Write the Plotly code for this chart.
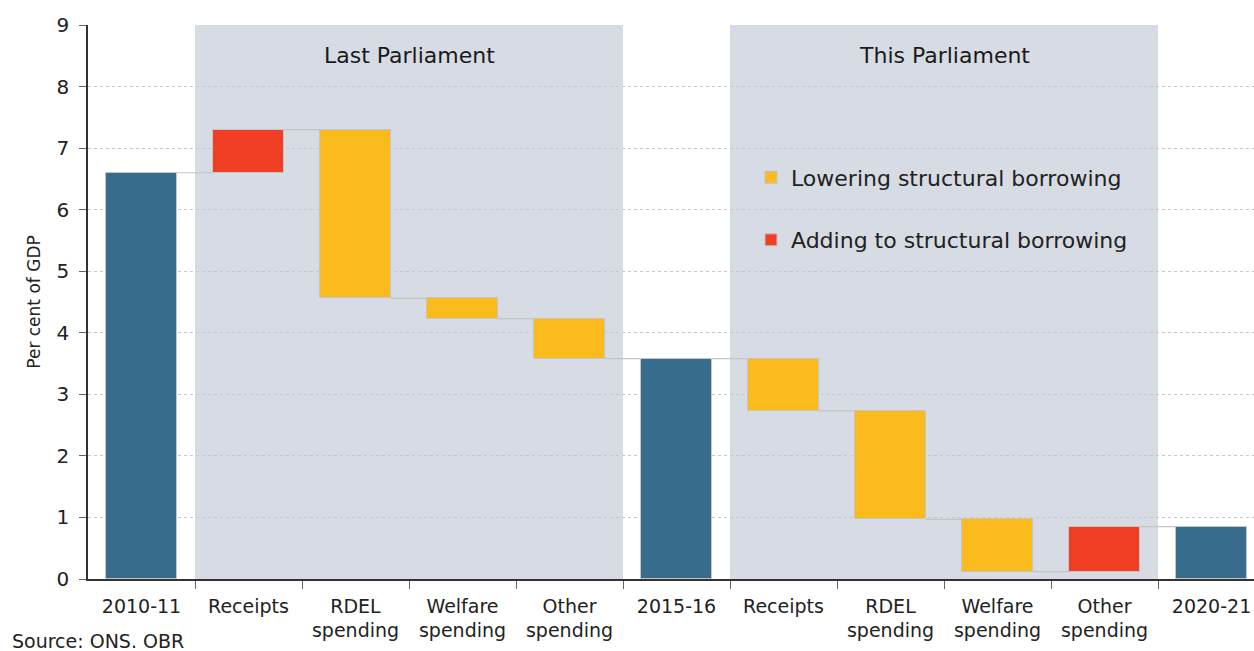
import plotly.graph_objects as go

# ---- data ----
categories = ["2010-11", "Receipts", "RDEL<br>spending", "Welfare<br>spending", "Other<br>spending",
              "2015-16", "Receipts", "RDEL<br>spending", "Welfare<br>spending", "Other<br>spending", "2020-21"]
kinds = ["total", "change", "change", "change", "change",
         "total", "change", "change", "change", "change", "total"]
totals = [6.60, 3.58, 0.85]
last_parliament_changes = [0.70, -2.74, -0.33, -0.65]
this_parliament_changes = [-0.85, -1.76, -0.85, 0.73]
section_labels = ["Last Parliament", "This Parliament"]
legend_names = ["Lowering structural borrowing", "Adding to structural borrowing"]

# ---- compute waterfall levels ----
changes = last_parliament_changes + this_parliament_changes
levels, starts = [], []
ti, ci = 0, 0
cur = 0.0
for k in kinds:
    if k == "total":
        starts.append(0.0)
        cur = totals[ti]; ti += 1
    else:
        starts.append(cur)
        cur = cur + changes[ci]; ci += 1
    levels.append(cur)

xs = list(range(len(categories)))
W = 0.66
BLUE, ORANGE, RED = "#386c8d", "#fbbb1d", "#f03f24"
OUTLINE = "#c4c4c4"
FONT = "DejaVu Sans"
TXT = "#222222"

tx, ty, tb = [], [], []
dx, dy, db = [], [], []
ix, iy, ib = [], [], []
for x, k, s, e in zip(xs, kinds, starts, levels):
    if k == "total":
        tx.append(x); ty.append(e); tb.append(0)
    elif e < s:
        dx.append(x); dy.append(s - e); db.append(e)
    else:
        ix.append(x); iy.append(e - s); ib.append(s)

fig = go.Figure()
# connectors
cx, cy = [], []
for i in range(len(xs) - 1):
    cx += [xs[i] + W / 2, xs[i + 1] - W / 2, None]
    cy += [levels[i], levels[i], None]
fig.add_trace(go.Scatter(x=cx, y=cy, mode="lines", line=dict(color=OUTLINE, width=1.2),
                         showlegend=False, hoverinfo="skip"))
fig.add_trace(go.Bar(x=tx, y=ty, base=tb, width=W, marker=dict(color=BLUE, line=dict(color=OUTLINE, width=1)),
                     showlegend=False))
fig.add_trace(go.Bar(x=dx, y=dy, base=db, width=W, name=legend_names[0], legendgroup="a",
                     marker=dict(color=ORANGE, line=dict(color=OUTLINE, width=1))))
fig.add_trace(go.Bar(x=ix, y=iy, base=ib, width=W, name=legend_names[1], legendgroup="b",
                     marker=dict(color=RED, line=dict(color=OUTLINE, width=1))))

# shaded parliament regions
for x0, x1 in [(0.5, 4.5), (5.5, 9.5)]:
    fig.add_shape(type="rect", xref="x", yref="paper", x0=x0, x1=x1, y0=0, y1=1,
                  fillcolor="#d7dce4", line=dict(width=0), layer="below")
for xc, lab in zip([2.5, 7.5], section_labels):
    fig.add_annotation(x=xc, y=8.5, text=lab, showarrow=False,
                       font=dict(size=22, color="#1a1a1a", family=FONT))

fig.add_annotation(xref="paper", yref="paper", x=-0.0669, y=-0.112, xanchor="left", yanchor="middle",
                   text="Source: ONS. OBR", showarrow=False, font=dict(size=19, color=TXT, family=FONT))

fig.update_layout(
    width=1254, height=651,
    margin=dict(l=88, r=0, t=25, b=72),
    plot_bgcolor="white", paper_bgcolor="white",
    barmode="overlay", bargap=0,
    font=dict(family=FONT, color=TXT, size=18),
    legend=dict(x=0.5686, y=0.668, xanchor="left", yanchor="middle",
                bgcolor="rgba(0,0,0,0)", font=dict(size=22, family=FONT, color=TXT),
                traceorder="grouped", tracegroupgap=31, itemwidth=30),
    xaxis=dict(range=[-0.5, 10.397], tickmode="array", tickvals=xs, ticktext=categories,
               ticks="", showgrid=False, zeroline=False, showline=True, linecolor="#333", linewidth=1.5,
               tickfont=dict(size=19, family=FONT, color=TXT), ticklabelstandoff=9,
               minor=dict(tickmode="array", tickvals=[i + 0.5 for i in range(10)], ticks="outside",
                          ticklen=8, tickcolor="#666", showgrid=False)),
    yaxis=dict(range=[0, 9], dtick=1, showgrid=True, gridcolor="#c8c8c8", griddash="dot", gridwidth=1,
               zeroline=False, showline=True, linecolor="#333", linewidth=1.5,
               ticks="outside", ticklen=7, tickcolor="#666", ticklabelstandoff=6,
               tickfont=dict(size=20, family=FONT, color=TXT),
               title=dict(text="Per cent of GDP", font=dict(size=17, family=FONT, color=TXT), standoff=12)),
)

fig.write_html("out.html", config={"displayModeBar": False},
               post_script="document.body.style.margin='0';document.body.style.overflow='hidden';")
